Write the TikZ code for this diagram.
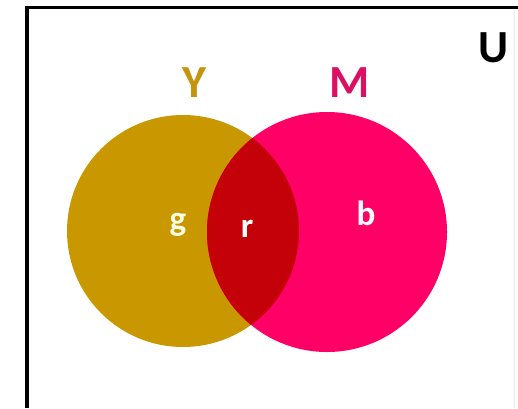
\documentclass[tikz,border=0pt]{standalone}
\usepackage{fontspec}
\setmainfont{Carlito}
\definecolor{ygold}{HTML}{C99700}
\definecolor{mpink}{HTML}{FF0066}
\definecolor{inter}{HTML}{C40008}
\definecolor{ylab}{HTML}{C4940E}
\definecolor{mlab}{HTML}{DB1063}
\begin{document}
\begin{tikzpicture}[x=1pt,y=1pt,
  setlabel/.style={anchor=base,font=\fontsize{46}{46}\selectfont\bfseries,inner sep=0pt},
  regionlabel/.style={anchor=base,font=\fontsize{35}{35}\selectfont\bfseries,inner sep=0pt,text=white}]
\useasboundingbox (0,0) rectangle (518,408);
\fill[white] (0,0) rectangle (518,408);
% frame
\draw[line width=4pt] (27,0) -- (27,400);
\draw[line width=3pt] (25,400) -- (518,400);
\draw[black!8,line width=1pt] (514,0) -- (514,398);
% circles
\fill[ygold] (183,177) circle (116);
\fill[mpink] (327,176) circle (120);
\begin{scope}
  \clip (183,177) circle (116);
  \fill[inter] (327,176) circle (120);
\end{scope}
% labels
\node[setlabel,text=ylab] (ly) at (194,311) {Y};
\node[setlabel,text=mlab] (lm) at (350,311) {M};
\node[setlabel,text=black] (lu) at (494,346) {U};
\node[regionlabel,text=white!90!yellow] (lg) at (178,178) {g};
\node[regionlabel] (lr) at (247,171) {r};
\node[regionlabel] (lb) at (366,183) {b};
\end{tikzpicture}
\end{document}
